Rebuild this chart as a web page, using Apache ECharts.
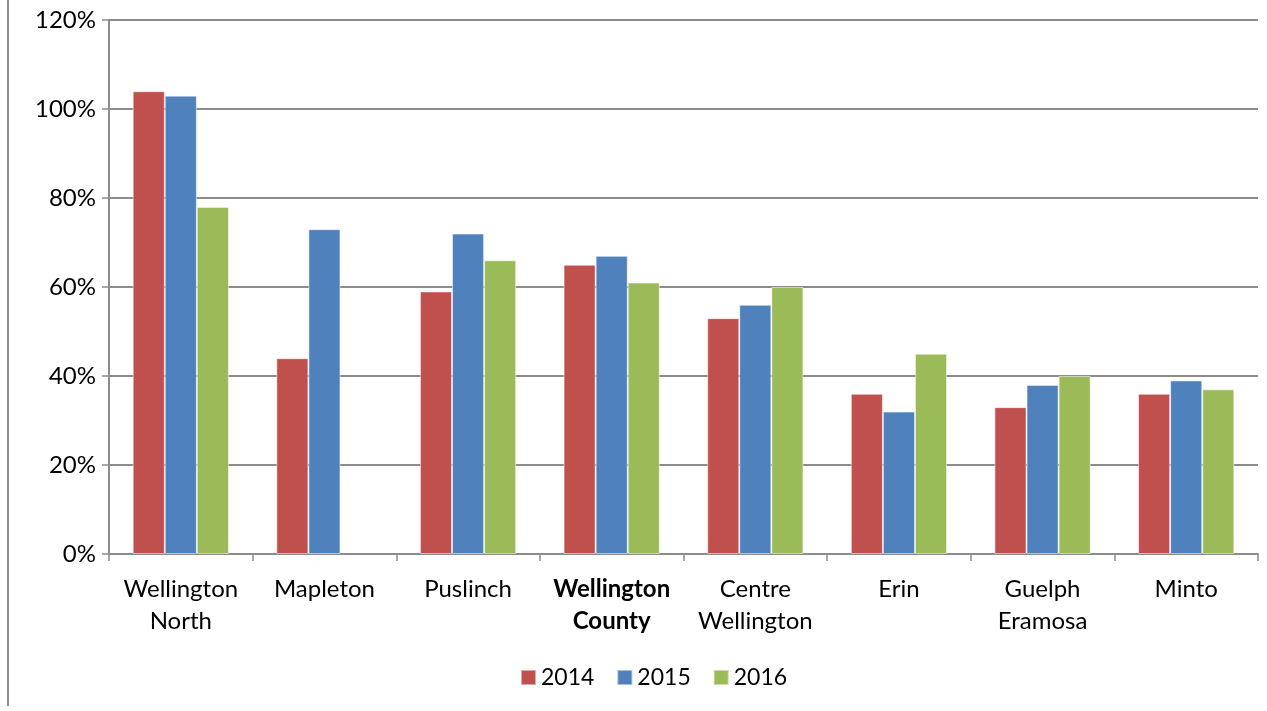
<!DOCTYPE html>
<html>
<head>
<meta charset="utf-8">
<script src="https://cdn.jsdelivr.net/npm/echarts@6/dist/echarts.min.js"></script>
<style>
  html, body { margin: 0; padding: 0; background: #fff; }
  #chart { width: 1267px; height: 711px; }
</style>
</head>
<body>
<div id="chart"></div>
<script>
const categories = ['Wellington\nNorth', 'Mapleton', 'Puslinch', 'Wellington\nCounty', 'Centre\nWellington', 'Erin', 'Guelph\nEramosa', 'Minto']
const boldCategory = 'Wellington\nCounty'
const years = ['2014', '2015', '2016']
const values2014 = [104, 44, 59, 65, 53, 36, 33, 36]
const values2015 = [103, 73, 72, 67, 56, 32, 38, 39]
const values2016 = [78, null, 66, 61, 60, 45, 40, 37]
const colors = ['#C0504D', '#4F81BD', '#9BBB59']
const yTicks = { min: 0, max: 120, interval: 20 }

const FONT = 'Lato, "Open Sans", sans-serif'
const chart = echarts.init(document.getElementById('chart'))

const seriesData = [values2014, values2015, values2016]

chart.setOption({
  animation: false,
  color: colors,
  textStyle: { fontFamily: FONT },
  grid: { left: 109, right: 9, top: 20, bottom: 157 },
  graphic: [{
    type: 'line',
    shape: { x1: 8, y1: 0, x2: 8, y2: 706 },
    style: { stroke: '#8c8c8c', lineWidth: 2 }
  }],
  legend: {
    top: 661,
    left: 515,
    itemWidth: 15,
    itemHeight: 15,
    itemGap: 22,
    icon: 'rect',
    textStyle: { fontSize: 23, color: '#000', fontFamily: FONT },
    data: years
  },
  xAxis: {
    type: 'category',
    data: categories,
    axisLine: { lineStyle: { color: '#8c8c8c', width: 2 } },
    axisTick: { show: true, length: 7, lineStyle: { color: '#8c8c8c', width: 1.5 } },
    axisLabel: {
      interval: 0,
      margin: 19,
      fontSize: 24,
      lineHeight: 32,
      color: '#000',
      formatter: (v) => v === boldCategory ? v.split('\n').map((s) => `{b|${s}}`).join('\n') : v,
      rich: { b: { fontWeight: 'bold', fontSize: 24, lineHeight: 32, color: '#000', fontFamily: FONT } }
    }
  },
  yAxis: {
    type: 'value',
    min: yTicks.min,
    max: yTicks.max,
    interval: yTicks.interval,
    axisLine: { show: true, lineStyle: { color: '#8c8c8c', width: 2 } },
    axisTick: { show: true, length: 7, lineStyle: { color: '#8c8c8c', width: 1.5 } },
    splitLine: { lineStyle: { color: '#8c8c8c', width: 2 } },
    axisLabel: { formatter: '{value}%', fontSize: 24, color: '#000', margin: 13 }
  },
  series: years.map((y, i) => ({
    name: y,
    type: 'bar',
    data: seriesData[i],
    barGap: '0%',
    barCategoryGap: '33%',
    itemStyle: { borderColor: 'rgba(255,255,255,0.5)', borderWidth: 1 }
  }))
})
</script>
</body>
</html>
